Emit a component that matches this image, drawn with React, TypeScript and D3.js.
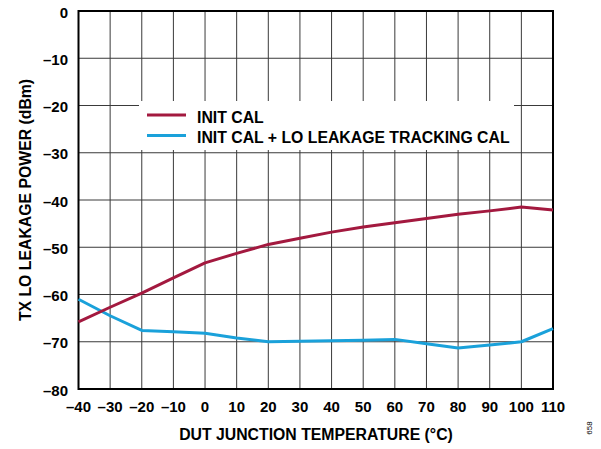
import React from "react";
import * as d3 from "d3";

const temps = [-40, -30, -20, -10, 0, 10, 20, 30, 40, 50, 60, 70, 80, 90, 100, 110];
const initCal = [-65.8, -62.7, -59.7, -56.5, -53.3, -51.3, -49.4, -48.1, -46.8, -45.7, -44.8, -43.9, -43.0, -42.3, -41.5, -42.1];
const trackCal = [-61.0, -64.5, -67.6, -67.9, -68.2, -69.2, -70.0, -69.9, -69.8, -69.7, -69.5, -70.4, -71.3, -70.7, -70.0, -67.2];
const xTicks = [-40, -30, -20, -10, 0, 10, 20, 30, 40, 50, 60, 70, 80, 90, 100, 110];
const yTicks = [0, -10, -20, -30, -40, -50, -60, -70, -80];
const seriesNames = ["INIT CAL", "INIT CAL + LO LEAKAGE TRACKING CAL"];
const seriesColors = ["#A3193F", "#1AA1DA"];

const fmt = (v: number) => (v < 0 ? "\u2013" + Math.abs(v) : String(v));

export default function App() {
  const W = 601, H = 449;
  const L = 78.5, R = 553, T = 11, B = 389;
  const x = d3.scaleLinear().domain([-40, 110]).range([L, R]);
  const y = d3.scaleLinear().domain([0, -80]).range([T, B]);
  const line = d3.line<number>().x((_, i) => x(temps[i])).y((d) => y(d));
  const font = "'Liberation Sans', Arial, sans-serif";
  const legend = { x0: 139, x1: 514, y0: 101, y1: 150 };
  return (
    <svg width={W} height={H} style={{ position: "absolute", left: 0, top: 0, background: "#fff" }}>
      <rect width={W} height={H} fill="#fff" />
      {xTicks.map((t) => (
        <line key={"gx" + t} x1={x(t)} x2={x(t)} y1={T} y2={B} stroke="#3a3a3a" strokeWidth={1} />
      ))}
      {yTicks.map((t) => (
        <line key={"gy" + t} x1={L} x2={R} y1={y(t)} y2={y(t)} stroke="#3a3a3a" strokeWidth={1} />
      ))}
      <rect x={legend.x0} y={legend.y0} width={legend.x1 - legend.x0} height={legend.y1 - legend.y0} fill="#fff" />
      <rect x={L} y={T} width={R - L} height={B - T} fill="none" stroke="#000" strokeWidth={2} />
      <path d={line(trackCal) || ""} fill="none" stroke={seriesColors[1]} strokeWidth={3} strokeLinejoin="round" />
      <path d={line(initCal) || ""} fill="none" stroke={seriesColors[0]} strokeWidth={3} strokeLinejoin="round" />
      {seriesNames.map((n, i) => (
        <g key={n}>
          <line x1={147} x2={186} y1={115 + i * 20.5} y2={115 + i * 20.5} stroke={seriesColors[i]} strokeWidth={3} />
          <text x={197} y={123 + i * 20} fontFamily={font} fontWeight="bold" fontSize={15.8} fill="#000">{n}</text>
        </g>
      ))}
      {yTicks.map((t) => (
        <text key={"ty" + t} x={68} y={y(t) + 6.5} textAnchor="end" fontFamily={font} fontWeight="bold" fontSize={15} fill="#000">{fmt(t)}</text>
      ))}
      {xTicks.map((t) => (
        <text key={"tx" + t} x={x(t)} y={411.5} textAnchor="middle" fontFamily={font} fontWeight="bold" fontSize={15} fill="#000">{fmt(t)}</text>
      ))}
      <text x={316} y={440} textAnchor="middle" fontFamily={font} fontWeight="bold" fontSize={15.8} fill="#000">DUT JUNCTION TEMPERATURE (°C)</text>
      <text transform={`translate(31,${(T + B) / 2}) rotate(-90)`} textAnchor="middle" fontFamily={font} fontWeight="bold" fontSize={15.8} fill="#000">TX LO LEAKAGE POWER (dBm)</text>
      <text transform="translate(592,428) rotate(-90)" textAnchor="middle" fontFamily={font} fontSize={8} fill="#000">658</text>
    </svg>
  );
}
